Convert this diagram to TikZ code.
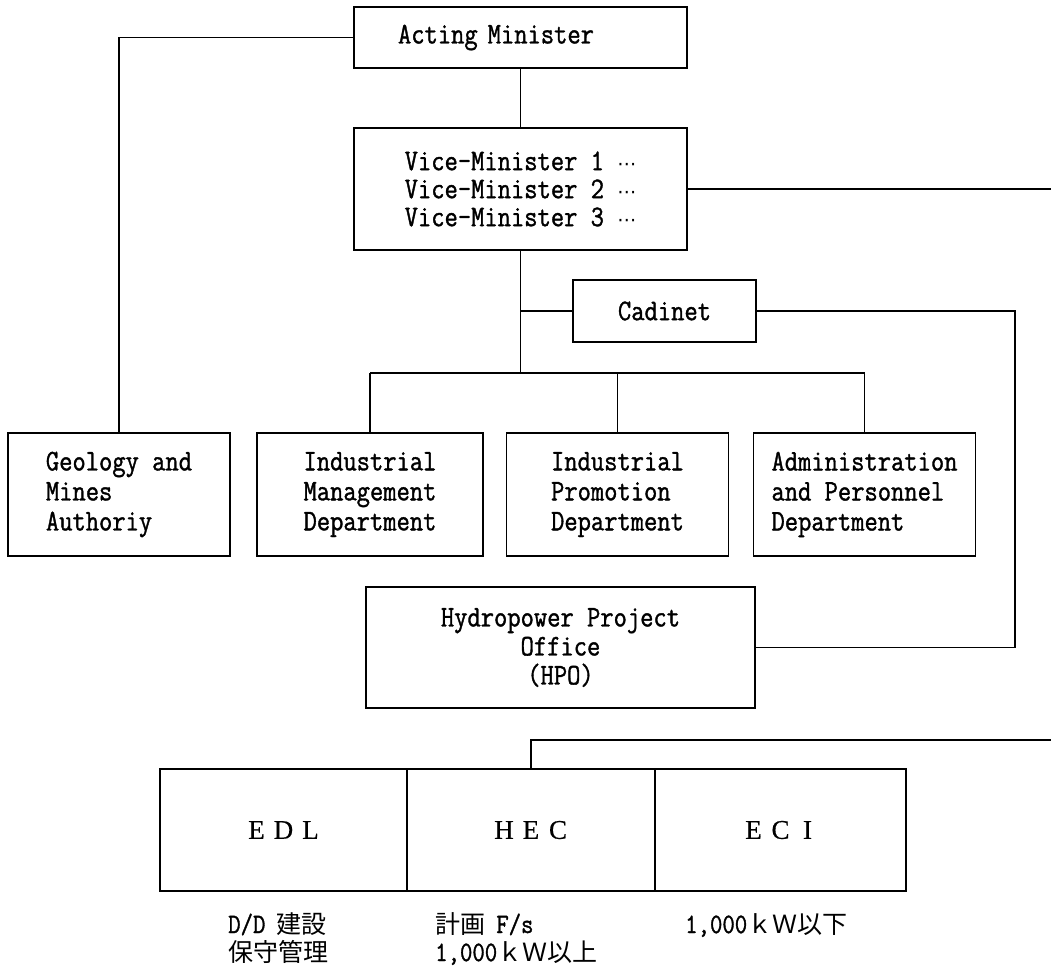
\documentclass[tikz,border=0pt]{standalone}
\usepackage{fontspec}
\setmainfont[FakeStretch=0.86,FakeBold=1.2]{Latin Modern Mono}
\newfontfamily\jp{Noto Sans CJK JP}
\newfontfamily\ser[FakeBold=0.5]{Liberation Serif}
\newfontfamily\dv{DejaVu Sans}
\newcommand\fwl[1]{\makebox[27pt]{#1}}
\newcommand\dts{{\dv\fontsize{19}{19}\selectfont ⋯}}
\begin{document}
\begin{tikzpicture}[x=1pt,y=-1pt,
  box/.style={draw, line width=1.8pt, inner sep=0pt, align=center,
    font=\fontsize{30}{30}\selectfont},
  ln/.style={line width=1.6pt},
  lbl/.style={inner sep=0pt, anchor=base west, font=\fontsize{25}{25}\selectfont}]
\useasboundingbox[fill=white] (0,0) rectangle (1051,970);

% boxes
\node[box, minimum width=333, minimum height=61, text width=245, align=left] (act) at (520.5,37.5) {Acting Minister};
\node[box, minimum width=333, minimum height=122, font=\fontsize{30}{28}\selectfont] (vice) at (520.5,189)
  {Vice-Minister 1 \dts\\Vice-Minister 2 \dts\\Vice-Minister 3 \dts};
\node[box, minimum width=183, minimum height=62] (cab) at (664.5,311) {Cadinet};

\node[box, minimum width=222, minimum height=123, align=left] (geo) at (119,494.5) {Geology and\\Mines\\Authoriy};
\node[box, minimum width=226, minimum height=123, align=left] (imd) at (370,494.5) {Industrial\\Management\\Department};
\node[box, minimum width=222, minimum height=123, align=left] (ipd) at (617.5,494.5) {Industrial\\Promotion\\Department};
\node[box, minimum width=222, minimum height=123, align=left] (apd) at (864.5,494.5) {Administration\\and Personnel\\Department};

\node[box, minimum width=389, minimum height=121, font=\fontsize{30}{29}\selectfont] (hpo) at (560.5,647.5) {Hydropower Project\\Office\\(HPO)};

\node[box, minimum width=247, minimum height=122, font=\ser\fontsize{27}{29}\selectfont] (edl) at (283.5,830) {\fwl{E}\fwl{D}\fwl{L}};
\node[box, minimum width=248, minimum height=122, font=\ser\fontsize{27}{29}\selectfont] (hec) at (531,830) {\fwl{H}\fwl{E}\fwl{C}};
\node[box, minimum width=251, minimum height=122, font=\ser\fontsize{27}{29}\selectfont] (eci) at (780.5,830) {\fwl{E}\fwl{C}\fwl{I}};

% labels below
\node[lbl] (t1) at (228,933) {{\fontsize{28}{28}\selectfont D/D} {\jp 建設}};
\node[lbl] (t2) at (228,961) {{\jp 保守管理}};
\node[lbl] (t3) at (435,933) {{\jp 計画} {\fontsize{28}{28}\selectfont F/s}};
\node[lbl] (t4) at (435,961) {{\fontsize{28}{28}\selectfont 1,000}{\jp ｋＷ以上}};
\node[lbl] (t5) at (685,933) {{\fontsize{28}{28}\selectfont 1,000}{\jp ｋＷ以下}};

% connectors
\draw[ln] (act.west) -| (geo.north);
\draw[ln] (act.south) -- (vice.north);
\coordinate (vr) at (1051,189);
\draw[ln] (vice.east) -- (vr);
\coordinate (bj) at (520.5,373);
\draw[ln] (vice.south) -- (bj);
\draw[ln] (vice.south |- cab.west) -- (cab.west);
\draw[ln] (imd.north |- bj) -- (apd.north |- bj);
\draw[ln] (imd.north |- bj) -- (imd.north);
\draw[ln] (ipd.north |- bj) -- (ipd.north);
\draw[ln] (apd.north |- bj) -- (apd.north);
\coordinate (cr) at (1015,480);
\draw[ln] (cab.east) -| (cr) |- (hpo.east);
\coordinate (br) at (1051,740);
\draw[ln] (br) -| (hec.north);
\end{tikzpicture}
\end{document}
